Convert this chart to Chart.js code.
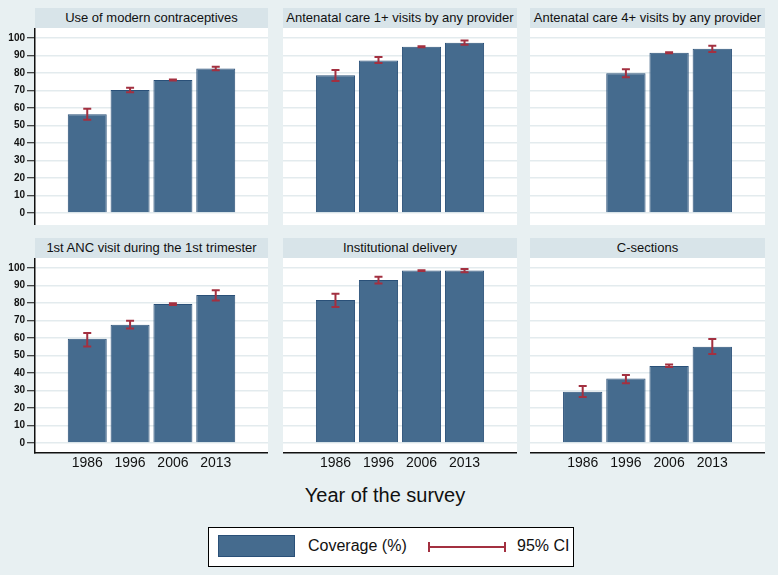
<!DOCTYPE html>
<html>
<head>
<meta charset="utf-8">
<script src="https://cdn.jsdelivr.net/npm/chart.js@4.4.1/dist/chart.umd.min.js"></script>
<style>
  body { margin: 0; background: #e8f0f2; font-family: Arial, "Liberation Sans", sans-serif; }
  #page { position: relative; width: 778px; height: 575px; overflow: hidden; }
  .head { position: absolute; height: 20px; line-height: 20px; background: #d8e4e9;
          text-align: center; font-size: 13px; color: #111; white-space: nowrap; }
  canvas { position: absolute; }
  #xtitle { position: absolute; left: 0; width: 770px; top: 484px; text-align: center;
            font-size: 20px; color: #111; }
  #legend { position: absolute; left: 208px; top: 527px; width: 364px; height: 38px;
            border: 1px solid #000; background: #fff; }
  #legend .sw { position: absolute; left: 9px; top: 7px; width: 75px; height: 20px;
                background: #456b8e; border: 1px solid #2a5078; }
  #legend .txt { position: absolute; top: 9px; font-size: 16px; color: #111; }
  #legend .ci { position: absolute; left: 219px; top: 18px; width: 78px; height: 2px; background: #a33040; }
  #legend .ci::before, #legend .ci::after { content: ""; position: absolute; top: -4px;
                width: 2px; height: 10px; background: #a33040; }
  #legend .ci::before { left: 0; }
  #legend .ci::after { right: 0; }
</style>
</head>
<body>
<div id="page">
  <div id="xtitle">Year of the survey</div>
  <div id="legend">
    <div class="sw"></div>
    <div class="txt" style="left:99px">Coverage (%)</div>
    <div class="ci"></div>
    <div class="txt" style="left:308px">95% CI</div>
  </div>
</div>
<script>
const years = ["1986", "1996", "2006", "2013"];
const yTicks = [0, 10, 20, 30, 40, 50, 60, 70, 80, 90, 100];

const titles = [
  "Use of modern contraceptives",
  "Antenatal care 1+ visits by any provider",
  "Antenatal care 4+ visits by any provider",
  "1st ANC visit during the 1st trimester",
  "Institutional delivery",
  "C-sections",
];

const contraceptives = [56.4, 70.3, 76.0, 82.5];
const contraceptivesLo = [53.3, 69.0, 75.7, 81.6];
const contraceptivesHi = [59.6, 71.6, 76.3, 83.5];

const anc1 = [78.7, 87.2, 95.0, 97.3];
const anc1Lo = [75.4, 85.7, 94.7, 96.2];
const anc1Hi = [81.7, 89.1, 95.3, 98.5];

const anc4 = [null, 79.8, 91.6, 93.9];
const anc4Lo = [null, 77.6, 91.3, 92.0];
const anc4Hi = [null, 82.1, 91.9, 95.6];

const firstTrimester = [59.6, 67.6, 79.4, 84.6];
const firstTrimesterLo = [55.2, 65.4, 78.8, 81.4];
const firstTrimesterHi = [62.8, 69.8, 79.9, 87.3];

const institutional = [81.7, 93.1, 98.5, 98.5];
const institutionalLo = [77.7, 91.1, 98.3, 97.6];
const institutionalHi = [85.3, 95.0, 98.7, 99.4];

const cSections = [29.3, 36.8, 44.0, 55.0];
const cSectionsLo = [26.3, 34.1, 43.4, 50.9];
const cSectionsHi = [32.6, 38.9, 44.8, 59.4];

const series = [
  [contraceptives, contraceptivesLo, contraceptivesHi],
  [anc1, anc1Lo, anc1Hi],
  [anc4, anc4Lo, anc4Hi],
  [firstTrimester, firstTrimesterLo, firstTrimesterHi],
  [institutional, institutionalLo, institutionalHi],
  [cSections, cSectionsLo, cSectionsHi],
];

// plot area edges per column / row
const cols = [[35, 268], [283, 517], [530, 765]];
const rows = [
  { head: 8, top: 28, bottom: 225, min: -6.86, max: 105.71 },
  { head: 238, top: 258, bottom: 453, min: -5.71, max: 105.71 },
];
const LEFT_AXIS = 35;
const BOTTOM_AXIS = 22;

function noPadding(scale) {
  scale.paddingTop = 0;
  scale.paddingBottom = 0;
  scale.paddingLeft = 0;
  scale.paddingRight = 0;
}

const plotBg = {
  id: "plotBg",
  beforeDraw(chart) {
    const { ctx, chartArea: a } = chart;
    ctx.save();
    ctx.fillStyle = "#ffffff";
    ctx.fillRect(a.left, a.top, a.right - a.left, a.bottom - a.top);
    ctx.restore();
  },
};

const ciBars = {
  id: "ciBars",
  afterDatasetsDraw(chart, args, opts) {
    const { ctx } = chart;
    const xs = chart.scales.x;
    const ys = chart.scales.y;
    ctx.save();
    ctx.strokeStyle = "#a33040";
    ctx.lineWidth = 2;
    opts.lo.forEach((lo, i) => {
      const hi = opts.hi[i];
      if (lo === null || hi === null) {
        return;
      }
      const x = xs.getPixelForValue(i);
      const y1 = ys.getPixelForValue(lo);
      const y2 = ys.getPixelForValue(hi);
      ctx.beginPath();
      ctx.moveTo(x, y1);
      ctx.lineTo(x, y2);
      ctx.moveTo(x - 4, y1);
      ctx.lineTo(x + 4, y1);
      ctx.moveTo(x - 4, y2);
      ctx.lineTo(x + 4, y2);
      ctx.stroke();
    });
    ctx.restore();
  },
};

const page = document.getElementById("page");

series.forEach(([values, lo, hi], p) => {
  const r = rows[Math.floor(p / 3)];
  const c = p % 3;
  const [pl, pr] = cols[c];
  const isLeft = c === 0;
  const isBottom = p >= 3;

  const head = document.createElement("div");
  head.className = "head";
  head.style.left = pl + "px";
  head.style.width = pr - pl + "px";
  head.style.top = r.head + "px";
  head.textContent = titles[p];
  page.appendChild(head);

  const left = isLeft ? pl - LEFT_AXIS : pl;
  const w = pr - left;
  const h = r.bottom - r.top + (isBottom ? BOTTOM_AXIS : 0);
  const canvas = document.createElement("canvas");
  canvas.width = w;
  canvas.height = h;
  canvas.style.left = left + "px";
  canvas.style.top = r.top + "px";
  canvas.style.width = w + "px";
  canvas.style.height = h + "px";
  page.appendChild(canvas);

  new Chart(canvas, {
    type: "bar",
    data: {
      datasets: [
        {
          data: values.map((v, i) => ({ x: i, y: v })),
          backgroundColor: "#456b8e",
          borderColor: "#2a5078",
          borderWidth: 1,
          barPercentage: 0.91,
          categoryPercentage: 1,
        },
      ],
    },
    options: {
      responsive: false,
      animation: false,
      layout: { padding: 0 },
      plugins: {
        legend: { display: false },
        tooltip: { enabled: false },
        ciBars: { lo, hi },
      },
      scales: {
        x: {
          type: "linear",
          min: -1.22,
          max: 4.22,
          offset: false,
          display: isBottom,
          afterBuildTicks(scale) {
            scale.ticks = years.map((_, i) => ({ value: i }));
          },
          afterFit(scale) {
            scale.height = isBottom ? BOTTOM_AXIS : 0;
            noPadding(scale);
          },
          grid: { display: true, offset: false, drawOnChartArea: false, drawTicks: false, color: "rgba(0,0,0,0)" },
          border: { display: true, color: "#111", width: 1.5 },
          ticks: {
            padding: 2,
            color: "#111",
            font: { family: "Arial", size: 14 },
            callback(value) {
              return years[value] ?? "";
            },
          },
        },
        y: {
          min: r.min,
          max: r.max,
          afterBuildTicks(scale) {
            scale.ticks = yTicks.map((v) => ({ value: v }));
          },
          afterFit(scale) {
            scale.width = isLeft ? LEFT_AXIS : 0;
            noPadding(scale);
          },
          grid: {
            color: "#e3ebee",
            lineWidth: 1.5,
            drawTicks: isLeft,
            tickLength: 8,
            tickColor: "#111",
            tickWidth: 1,
          },
          border: { display: isLeft, color: "#111", width: 1.5 },
          ticks: {
            display: isLeft,
            padding: 2,
            color: "#111",
            font: { family: "Arial", size: 10, weight: "bold" },
          },
        },
      },
    },
    plugins: [plotBg, ciBars],
  });
});
</script>
</body>
</html>
